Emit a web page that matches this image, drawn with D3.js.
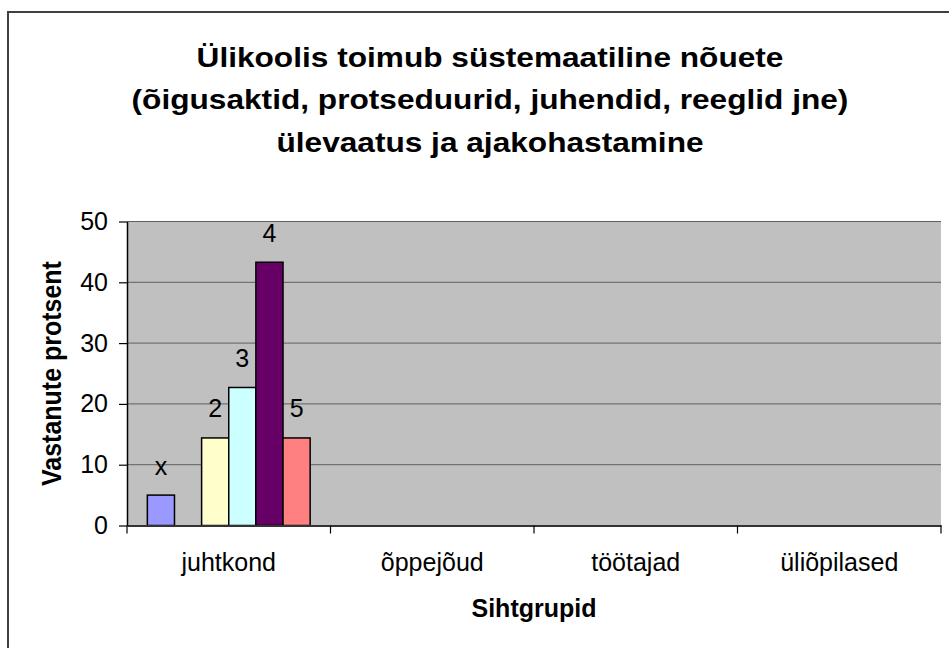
<!DOCTYPE html>
<html>
<head>
<meta charset="utf-8">
<script src="https://cdn.jsdelivr.net/npm/d3@7"></script>
<style>
  html, body { margin: 0; padding: 0; background: #fff; }
  svg { display: block; }
  text { font-family: "Liberation Sans", Arial, sans-serif; fill: #000; }
</style>
</head>
<body>
<script>
// ---------- data ----------
const categories = ["juhtkond", "õppejõud", "töötajad", "üliõpilased"];
const seriesNames = ["x", "1", "2", "3", "4", "5"];
const seriesColors = ["#9999FF", "#993366", "#FFFFCC", "#CCFFFF", "#660066", "#FF8080"];
const valuesX = [5.0, null, null, null];
const values1 = [null, null, null, null];
const values2 = [14.4, null, null, null];
const values3 = [22.7, null, null, null];
const values4 = [43.3, null, null, null];
const values5 = [14.4, null, null, null];
const yTicks = [0, 10, 20, 30, 40, 50];
const titleLines = [
  "Ülikoolis toimub süstemaatiline nõuete",
  "(õigusaktid, protseduurid, juhendid, reeglid jne)",
  "ülevaatus ja ajakohastamine"
];
const yTitle = "Vastanute protsent";
const xTitle = "Sihtgrupid";

const seriesValues = [valuesX, values1, values2, values3, values4, values5];
const series = seriesNames.map((name, i) => ({ name, color: seriesColors[i], values: seriesValues[i] }));

// ---------- layout ----------
const W = 949, H = 648;
const plot = { left: 127, right: 941, top: 221.5, bottom: 525.5 };

const svg = d3.select("body").append("svg").attr("width", W).attr("height", H);
svg.append("rect").attr("width", W).attr("height", H).attr("fill", "#fff");

// outer chart frame (cropped on right/bottom)
svg.append("rect")
  .attr("x", 8).attr("y", 12).attr("width", 1200).attr("height", 1200)
  .attr("fill", "none").attr("stroke", "#404040").attr("stroke-width", 2);

// scales
const x0 = d3.scaleBand().domain(categories).range([plot.left, plot.right]).paddingInner(0).paddingOuter(0);
const x1 = d3.scaleBand().domain(seriesNames).range([0, x0.bandwidth()]).paddingInner(0).paddingOuter(0.75);
const y = d3.scaleLinear().domain([0, 50]).range([plot.bottom, plot.top]);

// plot area
svg.append("rect")
  .attr("x", plot.left).attr("y", plot.top)
  .attr("width", plot.right - plot.left).attr("height", plot.bottom - plot.top)
  .attr("fill", "#C0C0C0");

// gridlines
svg.append("g").selectAll("line")
  .data(yTicks.filter(t => t > 0))
  .join("line")
  .attr("x1", plot.left).attr("x2", plot.right)
  .attr("y1", d => y(d)).attr("y2", d => y(d))
  .attr("stroke", "#606060").attr("stroke-width", 1);

// bars
const flat = [];
series.forEach(s => s.values.forEach((v, ci) => {
  if (v !== null && v !== undefined) flat.push({ series: s.name, color: s.color, cat: categories[ci], value: v });
}));

svg.append("g").selectAll("rect")
  .data(flat)
  .join("rect")
  .attr("x", d => x0(d.cat) + x1(d.series))
  .attr("y", d => y(d.value))
  .attr("width", x1.bandwidth())
  .attr("height", d => y(0) - y(d.value))
  .attr("fill", d => d.color)
  .attr("stroke", "#000").attr("stroke-width", 1.5);

// data labels (series names)
svg.append("g").selectAll("text")
  .data(flat)
  .join("text")
  .attr("x", d => x0(d.cat) + x1(d.series) + x1.bandwidth() / 2)
  .attr("y", d => y(d.value) - 20.5)
  .attr("text-anchor", "middle")
  .attr("font-size", 25)
  .text(d => d.series);

// y axis
const yAxis = svg.append("g")
  .attr("transform", `translate(${plot.left},0)`)
  .call(d3.axisLeft(y).tickValues(yTicks).tickSize(8).tickSizeOuter(0).tickPadding(11).tickFormat(d3.format("d")));
yAxis.select(".domain").attr("stroke", "#000").attr("stroke-width", 1.5);
yAxis.selectAll(".tick line").attr("stroke", "#000").attr("stroke-width", 1.2);
yAxis.selectAll(".tick text").attr("font-size", 25).attr("font-family", "'Liberation Sans', Arial, sans-serif").attr("fill", "#000");

// x axis (labels)
const xAxis = svg.append("g")
  .attr("transform", `translate(0,${plot.bottom})`)
  .call(d3.axisBottom(x0).tickSize(0).tickSizeOuter(0).tickPadding(28));
xAxis.select(".domain").attr("stroke", "#333").attr("stroke-width", 2);
xAxis.selectAll(".tick text").attr("font-size", 25).attr("font-family", "'Liberation Sans', Arial, sans-serif").attr("fill", "#000");

// x axis boundary tick marks
const boundaries = categories.map(c => x0(c)).concat([x0(categories[categories.length - 1]) + x0.bandwidth()]);
svg.append("g").selectAll("line")
  .data(boundaries)
  .join("line")
  .attr("x1", d => d).attr("x2", d => d)
  .attr("y1", plot.bottom).attr("y2", plot.bottom + 8)
  .attr("stroke", "#000").attr("stroke-width", 1.2);

// title
const titleBaselines = [66.5, 109, 151.5];
titleLines.forEach((line, i) => {
  svg.append("g")
    .attr("transform", `translate(490,${titleBaselines[i]}) scale(1.13,1)`)
    .append("text")
    .attr("text-anchor", "middle")
    .attr("font-size", 28)
    .attr("font-weight", "bold")
    .text(line);
});

// axis titles
svg.append("text")
  .attr("x", (plot.left + plot.right) / 2)
  .attr("y", 616.7)
  .attr("text-anchor", "middle")
  .attr("font-size", 25)
  .attr("font-weight", "bold")
  .text(xTitle);

svg.append("g")
  .attr("transform", `translate(61,${(plot.top + plot.bottom) / 2}) rotate(-90) scale(1,1.08)`)
  .append("text")
  .attr("text-anchor", "middle")
  .attr("font-size", 25)
  .attr("font-weight", "bold")
  .text(yTitle);
</script>
</body>
</html>
